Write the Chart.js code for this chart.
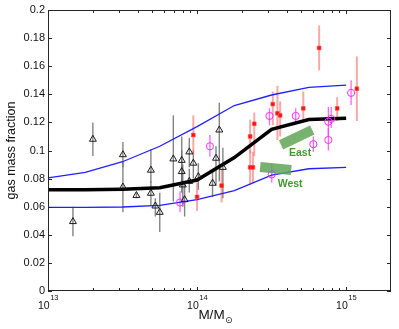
<!DOCTYPE html>
<html>
<head>
<meta charset="utf-8">
<script src="https://cdn.jsdelivr.net/npm/chart.js@4.4.1/dist/chart.umd.min.js"></script>
<style>
  body { margin: 0; background: #fff; }
  canvas { display: block; }
</style>
</head>
<body>
<canvas id="gasChart" width="399" height="329"></canvas>
<script>
// Gas mass fraction vs cluster mass

// model curves: mean and scatter envelope
const modelMass = [1e13, 1.778e13, 3.162e13, 5.623e13, 1e14, 1.778e14, 3.162e14, 5.623e14, 1e15];
const modelMean = [0.072, 0.072, 0.0725, 0.0735, 0.079, 0.095, 0.115, 0.122, 0.123];
const modelUpper = [0.0805, 0.0845, 0.092, 0.103, 0.117, 0.132, 0.1395, 0.145, 0.1465];
const modelLower = [0.0595, 0.0595, 0.0598, 0.061, 0.065, 0.0715, 0.0825, 0.087, 0.088];

// groups (open triangles)
const groupMass = [1.47e13, 2.0e13, 3.18e13, 3.18e13, 3.92e13, 4.9e13, 4.9e13, 5.25e13, 5.62e13, 6.93e13, 7.89e13,
    7.89e13, 8.02e13, 8.25e13, 8.87e13, 8.87e13, 9.44e13, 1.02e14, 1.27e14, 1.34e14, 1.41e14, 1.49e14];
const groupFrac = [0.0494, 0.108, 0.097, 0.074, 0.068, 0.086, 0.0696, 0.0605, 0.056, 0.094, 0.093,
    0.085, 0.0755, 0.065, 0.099, 0.078, 0.091, 0.0814, 0.0767, 0.0945, 0.1146, 0.088];
const groupLo = [0.039, 0.096, 0.088, 0.056, 0.066, 0.077, 0.061, 0.053, 0.042, 0.0636, 0.078,
    0.070, 0.060, 0.053, 0.088, 0.070, 0.080, 0.072, 0.067, 0.075, 0.078, 0.066];
const groupHi = [0.060, 0.120, 0.106, 0.092, 0.070, 0.101, 0.078, 0.066, 0.070, 0.125, 0.110,
    0.100, 0.090, 0.078, 0.109, 0.087, 0.100, 0.091, 0.086, 0.103, 0.134, 0.102];

// clusters (red)
const clusterMass = [9.44e13, 1.0e14, 1.46e14, 2.27e14, 2.27e14, 2.37e14, 2.42e14, 3.22e14, 3.46e14, 3.61e14,
    5.16e14, 6.59e14, 8.71e14, 1.18e15];
const clusterFrac = [0.111, 0.067, 0.075, 0.110, 0.088, 0.088, 0.119, 0.133, 0.1265, 0.125, 0.130, 0.173, 0.130, 0.144];
const clusterLo = [0.097, 0.057, 0.063, 0.098, 0.0755, 0.0765, 0.096, 0.118, 0.1075, 0.110, 0.122, 0.157, 0.121, 0.121];
const clusterHi = [0.125, 0.077, 0.087, 0.122, 0.100, 0.099, 0.127, 0.142, 0.146, 0.135, 0.142, 0.189, 0.138, 0.167];

// second cluster sample (magenta circles)
const sampleMass = [7.69e13, 1.22e14, 3.06e14, 3.17e14, 4.59e14, 6.03e14, 7.6e14, 7.6e14, 7.94e14, 1.08e15];
const sampleFrac = [0.063, 0.103, 0.1246, 0.083, 0.1246, 0.1045, 0.1205, 0.1075, 0.1225, 0.141];
const sampleLo = [0.056, 0.0956, 0.118, 0.077, 0.119, 0.099, 0.110, 0.100, 0.116, 0.1324];
const sampleHi = [0.071, 0.111, 0.130, 0.090, 0.130, 0.110, 0.131, 0.116, 0.131, 0.150];

// East / West bands
const eastMass = [3.66e14, 5.92e14];
const eastFrac = [0.104, 0.1146];
const westMass = [2.65e14, 4.28e14];
const westFrac = [0.0883, 0.0861];
const bandLabels = ['East', 'West'];
const bandLabelMass = [4.91e14, 4.21e14];
const bandLabelFrac = [0.098, 0.0762];

// axes
const yTicks = [0, 0.02, 0.04, 0.06, 0.08, 0.1, 0.12, 0.14, 0.16, 0.18, 0.2];
const yTickLabels = ['0', '0.02', '0.04', '0.06', '0.08', '0.1', '0.12', '0.14', '0.16', '0.18', '0.2'];
const xMajor = [1e13, 1e14, 1e15];
const xExponents = ['13', '14', '15'];
const xMinor = [2e13, 3e13, 4e13, 5e13, 6e13, 7e13, 8e13, 9e13, 2e14, 3e14, 4e14, 5e14, 6e14, 7e14, 8e14, 9e14];

const FONT = '"Liberation Sans", Arial, Helvetica, sans-serif';
const toPoints = (xs, ys) => xs.map((x, i) => ({ x: x, y: ys[i] }));

function drawErrorBars(chart, xs, lo, hi, color, width) {
    const ctx = chart.ctx;
    const sx = chart.scales.x, sy = chart.scales.y;
    ctx.save();
    ctx.strokeStyle = color;
    ctx.lineWidth = width;
    xs.forEach((m, i) => {
        const px = sx.getPixelForValue(m);
        ctx.beginPath();
        ctx.moveTo(px, sy.getPixelForValue(lo[i]));
        ctx.lineTo(px, sy.getPixelForValue(hi[i]));
        ctx.stroke();
    });
    ctx.restore();
}

const errorBarPlugin = {
    id: 'errorBars',
    beforeDatasetsDraw(chart) {
        drawErrorBars(chart, groupMass, groupLo, groupHi, 'rgba(110,110,110,0.85)', 1.4);
        drawErrorBars(chart, clusterMass, clusterLo, clusterHi, 'rgba(245,110,110,0.6)', 2);
        drawErrorBars(chart, sampleMass, sampleLo, sampleHi, 'rgba(255,60,255,0.8)', 1.3);
    }
};

const frameLabelsPlugin = {
    id: 'frameLabels',
    afterDraw(chart) {
        const ctx = chart.ctx;
        const a = chart.chartArea;
        const sx = chart.scales.x, sy = chart.scales.y;
        ctx.save();
        ctx.strokeStyle = '#262626';
        ctx.lineWidth = 1;
        ctx.strokeRect(a.left + 0.5, a.top + 0.5, a.right - a.left - 1, a.bottom - a.top - 1);

        // y ticks on both sides
        ctx.beginPath();
        yTicks.forEach(v => {
            const py = Math.round(sy.getPixelForValue(v)) + 0.5;
            ctx.moveTo(a.left, py); ctx.lineTo(a.left + 4, py);
            ctx.moveTo(a.right, py); ctx.lineTo(a.right - 4, py);
        });
        // x ticks top and bottom
        xMajor.concat(xMinor).forEach((v, i) => {
            const px = Math.round(sx.getPixelForValue(v)) + 0.5;
            const len = i < xMajor.length ? 4 : 3;
            ctx.moveTo(px, a.bottom); ctx.lineTo(px, a.bottom - len);
            ctx.moveTo(px, a.top); ctx.lineTo(px, a.top + len);
        });
        ctx.stroke();

        ctx.fillStyle = '#111';
        ctx.font = '11px ' + FONT;
        ctx.textAlign = 'right';
        ctx.textBaseline = 'middle';
        yTicks.forEach((v, i) => {
            ctx.fillText(yTickLabels[i], a.left - 3, sy.getPixelForValue(v));
        });

        // x tick labels 10^n
        ctx.textBaseline = 'alphabetic';
        ctx.textAlign = 'left';
        xMajor.forEach((v, i) => {
            const px = sx.getPixelForValue(v);
            ctx.font = '10.5px ' + FONT;
            const wBase = ctx.measureText('10').width;
            ctx.font = '7.5px ' + FONT;
            const wExp = ctx.measureText(xExponents[i]).width;
            const left = px - (wBase + wExp) / 2;
            ctx.font = '10.5px ' + FONT;
            ctx.fillText('10', left, a.bottom + 18);
            ctx.font = '7.5px ' + FONT;
            ctx.fillText(xExponents[i], left + wBase + 0.5, a.bottom + 9);
        });

        // x title M/M_sun
        ctx.font = '13.5px ' + FONT;
        const wM = ctx.measureText('M/M').width;
        ctx.font = '9px ' + FONT;
        const wSun = ctx.measureText('\u2299').width;
        const xLeft = (a.left + a.right) / 2 - (wM + wSun) / 2 - 4;
        ctx.font = '13.5px ' + FONT;
        ctx.fillText('M/M', xLeft, a.bottom + 27.5);
        ctx.font = '9px "DejaVu Sans", ' + FONT;
        ctx.fillText('\u2299', xLeft + wM + 0.5, a.bottom + 31.5);

        // y title
        ctx.save();
        ctx.translate(12, (a.top + a.bottom) / 2);
        ctx.rotate(-Math.PI / 2);
        ctx.textAlign = 'center';
        ctx.textBaseline = 'middle';
        ctx.font = '12.5px ' + FONT;
        ctx.fillText('gas mass fraction', 0, 0);
        ctx.restore();

        // band labels
        ctx.fillStyle = '#3f9a2c';
        ctx.font = 'bold 10.5px ' + FONT;
        ctx.textAlign = 'center';
        ctx.textBaseline = 'middle';
        bandLabels.forEach((t, i) => {
            ctx.fillText(t, sx.getPixelForValue(bandLabelMass[i]), sy.getPixelForValue(bandLabelFrac[i]));
        });
        ctx.restore();
    }
};

const lineStyle = (color, width) => ({
    type: 'line', showLine: true, borderColor: color, borderWidth: width,
    pointRadius: 0, fill: false, tension: 0
});

new Chart(document.getElementById('gasChart').getContext('2d'), {
    type: 'scatter',
    data: {
        datasets: [
            {
                label: 'groups', data: toPoints(groupMass, groupFrac), order: 1,
                pointStyle: 'triangle', pointRadius: 4, borderColor: '#1a1a1a', borderWidth: 1,
                backgroundColor: 'rgba(255,255,255,0)'
            },
            {
                label: 'clusters', data: toPoints(clusterMass, clusterFrac), order: 1,
                pointStyle: 'rect', pointRadius: 2.6, borderColor: 'rgba(255,70,70,0.7)', borderWidth: 1,
                backgroundColor: '#ff1010'
            },
            {
                label: 'sample', data: toPoints(sampleMass, sampleFrac), order: 1,
                pointStyle: 'circle', pointRadius: 3.6, borderColor: '#ff2dff', borderWidth: 1,
                backgroundColor: 'rgba(255,255,255,0)'
            },
            Object.assign({ label: 'East', data: toPoints(eastMass, eastFrac), order: 2, borderCapStyle: 'butt' },
                lineStyle('rgba(95,165,85,0.85)', 10)),
            Object.assign({ label: 'West', data: toPoints(westMass, westFrac), order: 2, borderCapStyle: 'butt' },
                lineStyle('rgba(95,165,85,0.85)', 10)),
            Object.assign({ label: 'mean', data: toPoints(modelMass, modelMean), order: 3 }, lineStyle('#000', 3.5)),
            Object.assign({ label: 'upper', data: toPoints(modelMass, modelUpper), order: 3 }, lineStyle('#2020ff', 1.3)),
            Object.assign({ label: 'lower', data: toPoints(modelMass, modelLower), order: 3 }, lineStyle('#2020ff', 1.3))
        ]
    },
    options: {
        responsive: false,
        animation: false,
        layout: { padding: { left: 48, right: 8, top: 10, bottom: 38 } },
        scales: {
            x: { type: 'logarithmic', min: 1e13, max: 2e15, display: false },
            y: { type: 'linear', min: 0, max: 0.2, display: false }
        },
        plugins: {
            legend: { display: false },
            tooltip: { enabled: false }
        }
    },
    plugins: [errorBarPlugin, frameLabelsPlugin]
});
</script>
</body>
</html>
